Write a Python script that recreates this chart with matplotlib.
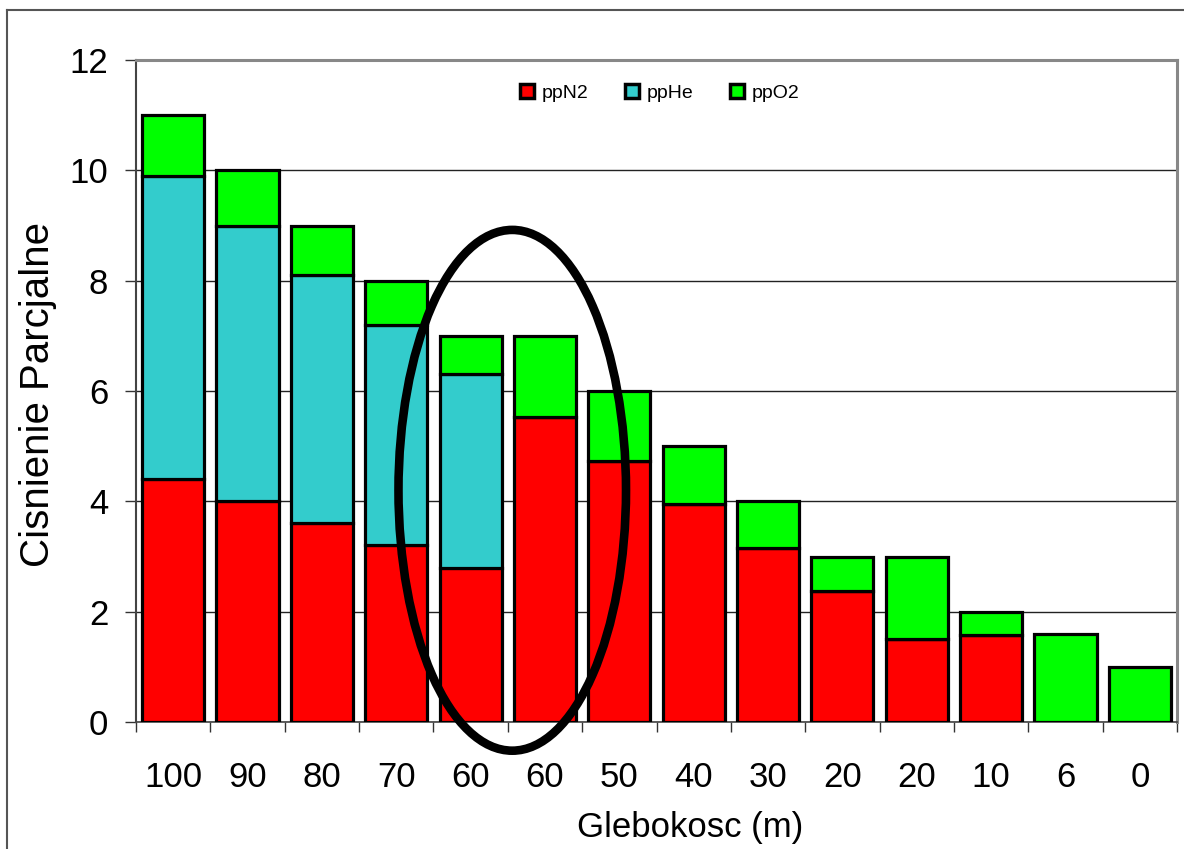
import matplotlib
matplotlib.use("Agg")
import matplotlib.pyplot as plt
from matplotlib.patches import Ellipse
from matplotlib.lines import Line2D
import numpy as np

plt.rcParams['font.family'] = ['Liberation Sans', 'DejaVu Sans']

# Depth stops (m) and partial pressures of each gas (bar)
depths = ["100", "90", "80", "70", "60", "60", "50", "40", "30", "20", "20", "10", "6", "0"]
pp_n2 = [4.4, 4.0, 3.6, 3.2, 2.8, 5.53, 4.74, 3.95, 3.16, 2.37, 1.5, 1.58, 0.0, 0.0]
pp_he = [5.5, 5.0, 4.5, 4.0, 3.5, 0.0, 0.0, 0.0, 0.0, 0.0, 0.0, 0.0, 0.0, 0.0]
pp_o2 = [1.1, 1.0, 0.9, 0.8, 0.7, 1.47, 1.26, 1.05, 0.84, 0.63, 1.5, 0.42, 1.6, 1.0]

series_names = ["ppN2", "ppHe", "ppO2"]
series_colors = ["#FF0000", "#33CCCC", "#00FF00"]

W, H = 1184, 849
fig = plt.figure(figsize=(W / 100, H / 100), dpi=100)
fig.patch.set_facecolor("white")

# outer frame (left and top edges visible)
fig.add_artist(Line2D([7 / W, 7 / W], [0, 1 - 10 / H], color="#555555", lw=1.5))
fig.add_artist(Line2D([7 / W, 1], [1 - 10 / H, 1 - 10 / H], color="#555555", lw=1.5))

ax = fig.add_axes([136 / W, 1 - 722 / H, (1177 - 136) / W, (722 - 60) / H])

x = np.arange(len(depths))
n2 = np.array(pp_n2)
he = np.array(pp_he)
o2 = np.array(pp_o2)

bar_kw = dict(width=0.835, edgecolor="black", linewidth=2.3, zorder=3)
ax.bar(x, n2, color=series_colors[0], label=series_names[0], **bar_kw)
ax.bar(x, he, bottom=n2, color=series_colors[1], label=series_names[1], **bar_kw)
ax.bar(x, o2, bottom=n2 + he, color=series_colors[2], label=series_names[2], **bar_kw)

ax.set_xlim(-0.5, len(depths) - 0.5)
ax.set_ylim(0, 12)

# horizontal grid
ax.set_yticks(np.arange(0, 13, 2))
ax.yaxis.grid(True, color="#222222", linewidth=1.0, zorder=0)
ax.set_axisbelow(True)

# y ticks
ax.tick_params(axis="y", direction="out", length=8, width=1.0, color="#333333",
               labelsize=25, pad=12)

# x: labels at bar centres, tick marks at category boundaries
ax.set_xticks(x)
ax.set_xticklabels(depths)
ax.set_xticks(np.arange(-0.5, len(depths), 1.0), minor=True)
ax.tick_params(axis="x", which="major", length=0, labelsize=25, pad=28)
ax.tick_params(axis="x", which="minor", direction="out", length=7, width=1.0, color="#333333")

for side in ("top", "right"):
    ax.spines[side].set_color("#888888")
    ax.spines[side].set_linewidth(2.2)
ax.spines["left"].set_color("#444444")
ax.spines["left"].set_linewidth(1.5)
ax.spines["bottom"].set_color("#444444")
ax.spines["bottom"].set_linewidth(1.2)

ax.set_xlabel("Glebokosc (m)", fontsize=25, va="center")
ax.xaxis.set_label_coords(0.532, -0.159)
ax.set_ylabel("Cisnienie Parcjalne", fontsize=29, va="center")
ax.yaxis.set_label_coords(-0.094, 0.495)

leg = ax.legend(loc="center", bbox_to_anchor=(0.503, 0.95), ncol=3, frameon=False,
                fontsize=14, handlelength=0.7, handleheight=0.7, handletextpad=0.4,
                columnspacing=1.9)
for h in leg.legend_handles:
    h.set_linewidth(2.5)

# highlight around the two 60 m stops
ring = Ellipse((4.56, 4.2), width=3.06, height=9.44, fill=False, edgecolor="black",
               linewidth=6.2, zorder=5, clip_on=False)
ax.add_patch(ring)

fig.savefig("out.png", dpi=100)
